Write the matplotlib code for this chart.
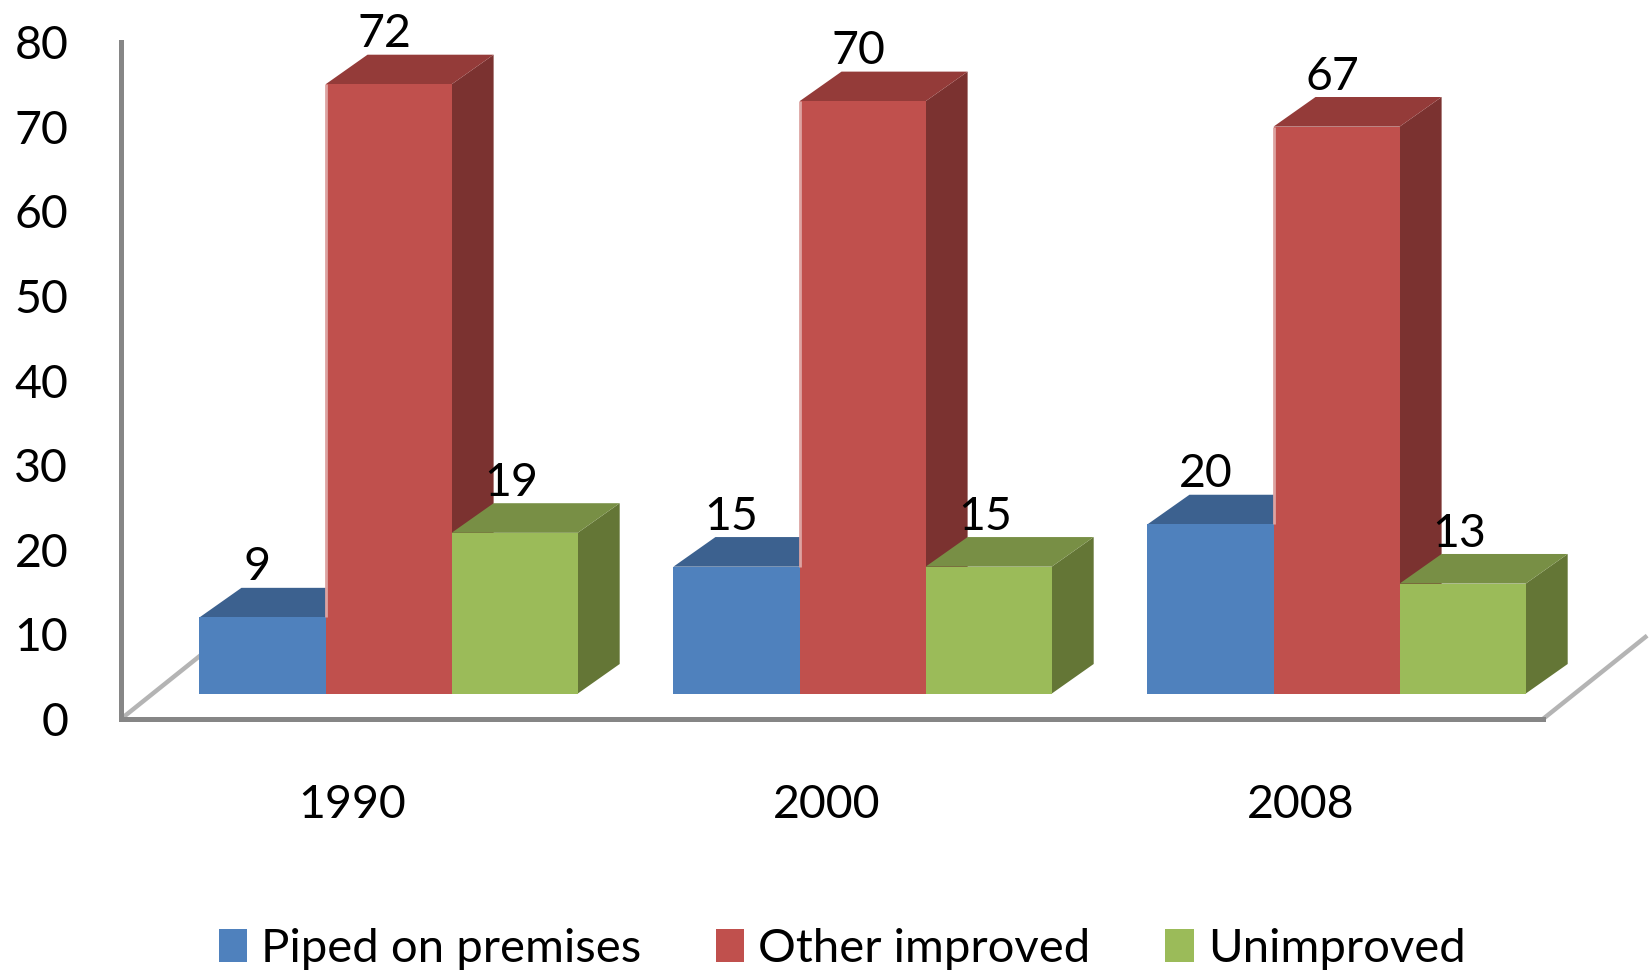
import matplotlib
matplotlib.use("Agg")
import matplotlib.pyplot as plt
from matplotlib.patches import Polygon, Patch
from matplotlib.transforms import ScaledTranslation

plt.rcParams['font.family'] = ['Lato', 'DejaVu Sans']

# Share of population by drinking water source
years = ['1990', '2000', '2008']
piped = [9, 15, 20]
other = [72, 70, 67]
unimproved = [19, 15, 13]
series_names = ['Piped on premises', 'Other improved', 'Unimproved']
yticks = [0, 10, 20, 30, 40, 50, 60, 70, 80]

# front, top and side shades for each series
blue = ('#4F81BD', '#3C618F', '#3C618F')
red = ('#C0504D', '#943B39', '#7B3230')
green = ('#9BBB59', '#788F45', '#647636')

BAR_W = 0.266       # bar width in category units
FIRST = -0.3345     # left edge of the first bar relative to the category
DX, DY = 0.0886, 3.5  # oblique depth of each bar
FLOOR = 3.0         # bars stand back from the axis plane by this much
AXIS_GREY = '#868686'
LABEL_SIZE = 33.5

fig = plt.figure(figsize=(16.5, 9.72), dpi=100)
W, H = 1650, 972
ax = fig.add_axes([121 / W, 1 - 719 / H, 1422 / W, 677 / H])
ax.set_xlim(-0.5, 2.5)
ax.set_ylim(0, 80)


def box(x, value, shades, z):
    """Draw one oblique bar: side and top faces first, front face over them."""
    y0, y1 = FLOOR, FLOOR + value
    x1 = x + BAR_W
    front, top, side = shades
    faces = [
        ([(x1, y0), (x1 + DX, y0 + DY), (x1 + DX, y1 + DY), (x1, y1)], side),
        ([(x, y1), (x + DX, y1 + DY), (x1 + DX, y1 + DY), (x1, y1)], top),
        ([(x, y0), (x1, y0), (x1, y1), (x, y1)], front),
    ]
    for pts, colour in faces:
        ax.add_patch(Polygon(pts, closed=True, facecolor=colour, edgecolor='none',
                             zorder=z, clip_on=False))


# floor edges running back from both ends of the category axis
for x_end in (-0.5, 2.5):
    ax.plot([x_end, x_end + 0.2197], [0, 9.85], color='#b4b4b4', lw=3.2,
            zorder=1, clip_on=False, solid_capstyle='butt')

z = 2
label_shift = [(-5, 50), (-4, 50), (-3, 50)]
for i, year in enumerate(years):
    for j, (vals, shades) in enumerate(zip((piped, other, unimproved), (blue, red, green))):
        x = i + FIRST + j * BAR_W
        box(x, vals[i], shades, z)
        if j == 1:
            # pale highlight along the left edge of the tall bar
            ax.plot([x, x], [FLOOR + piped[i], FLOOR + vals[i]], color='#DDA3A1',
                    lw=2, zorder=z, solid_capstyle='butt')
        z += 1
    for j, vals in enumerate((piped, other, unimproved)):
        x = i + FIRST + j * BAR_W
        ax.annotate(str(vals[i]), xy=(x + BAR_W / 2, FLOOR + vals[i]),
                    xytext=(label_shift[j][0] * 0.72, label_shift[j][1] * 0.72),
                    textcoords='offset points', ha='center', va='center',
                    fontsize=LABEL_SIZE, color='black', zorder=50,
                    annotation_clip=False)

# axes frame
for name in ('top', 'right'):
    ax.spines[name].set_visible(False)
for name in ('left', 'bottom'):
    ax.spines[name].set_color(AXIS_GREY)
    ax.spines[name].set_linewidth(3.6)
    ax.spines[name].set_zorder(40)
ax.patch.set_alpha(0)

ax.set_yticks(yticks)
ax.set_xticks(range(len(years)))
ax.set_xticklabels(years)
ax.tick_params(axis='y', length=0, pad=38, labelsize=LABEL_SIZE)
ax.tick_params(axis='x', length=0, pad=47, labelsize=LABEL_SIZE)
shift = ScaledTranslation(-5.5 / 72 * 0.72, 0, fig.dpi_scale_trans)
for lab in ax.get_xticklabels():
    lab.set_transform(lab.get_transform() + shift)

handles = [Patch(facecolor=s[0], edgecolor='none') for s in (blue, red, green)]
fig.legend(handles, series_names, ncol=3, frameon=False, fontsize=34,
           loc='center', bbox_to_anchor=(842 / W, 1 - 949 / H),
           handlelength=0.6, handleheight=0.67, handletextpad=0.3,
           columnspacing=1.58, borderpad=0, borderaxespad=0)

fig.savefig('out.png', dpi=100)
